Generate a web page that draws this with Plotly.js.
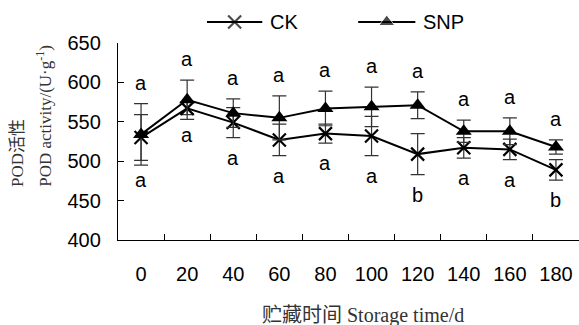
<!DOCTYPE html>
<html>
<head>
<meta charset="utf-8">
<script src="https://cdn.plot.ly/plotly-3.0.1.min.js"></script>
<style>html,body{margin:0;padding:0;background:#fff;}#chart{width:579px;height:325px;}</style>
</head>
<body>
<div id="chart"></div>
<script>
// Data
var days = ['0', '20', '40', '60', '80', '100', '120', '140', '160', '180'];
var ckValues = [530, 567, 549, 527, 535, 532, 509, 517, 515, 489];
var ckErrors = [29, 8, 19, 20, 12, 25, 26, 13, 13, 13];
var snpValues = [534, 578, 561, 555, 567, 569, 571, 538, 538, 518];
var snpErrors = [39, 25, 18, 28, 22, 25, 17, 14, 17, 9];
var ckLetters = ['a', 'a', 'a', 'a', 'a', 'a', 'b', 'a', 'a', 'b'];
var snpLetters = ['a', 'a', 'a', 'a', 'a', 'a', 'a', 'a', 'a', 'a'];
var seriesNames = ['CK', 'SNP'];

var sans = 'Liberation Sans, Arial, sans-serif';
var serif = 'Liberation Serif, Times New Roman, Noto Sans CJK SC, serif';

var errStyle = {type: 'data', visible: true, color: '#333', thickness: 1.2, width: 7};
var ckMarker = {symbol: 'x-thin', size: 13, color: '#000', line: {color: '#000', width: 2.2}};
var snpMarker = {symbol: 'triangle-up', size: 14, color: '#000'};

var traces = [
  {
    x: days, y: ckValues, name: seriesNames[0], type: 'scatter', mode: 'lines+markers',
    line: {color: '#000', width: 2}, marker: ckMarker, showlegend: false,
    error_y: Object.assign({array: ckErrors}, errStyle)
  },
  {
    x: days, y: snpValues, name: seriesNames[1], type: 'scatter', mode: 'lines+markers',
    line: {color: '#000', width: 2}, marker: snpMarker, showlegend: false,
    error_y: Object.assign({array: snpErrors}, errStyle)
  },
  // legend samples on a separate small axis in the top strip
  {
    x: [0.193, 0.253, 0.313], y: [0.5, 0.5, 0.5], xaxis: 'x2', yaxis: 'y2',
    type: 'scatter', mode: 'lines+markers', showlegend: false, hoverinfo: 'skip',
    line: {color: '#000', width: 2},
    marker: {symbol: 'x-thin', size: [0, 13, 0], color: '#000', line: {color: '#000', width: 2.2}}
  },
  {
    x: [0.521, 0.583, 0.645], y: [0.5, 0.5, 0.5], xaxis: 'x2', yaxis: 'y2',
    type: 'scatter', mode: 'lines+markers', showlegend: false, hoverinfo: 'skip',
    line: {color: '#000', width: 2},
    marker: {symbol: 'triangle-up', size: [0, 14, 0], color: '#000'}
  }
];

var annotations = [];
for (var i = 0; i < days.length; i++) {
  annotations.push({
    x: i, y: snpValues[i] + snpErrors[i], xref: 'x', yref: 'y',
    text: snpLetters[i], showarrow: false, yanchor: 'bottom', yshift: 8,
    font: {family: sans, size: 20, color: '#000'}
  });
  annotations.push({
    x: i, y: ckValues[i] - ckErrors[i], xref: 'x', yref: 'y',
    text: ckLetters[i], showarrow: false, yanchor: 'top', yshift: -7,
    font: {family: sans, size: 20, color: '#000'}
  });
}
annotations.push({
  xref: 'x2', yref: 'y2', x: 0.325, y: 0.5, xanchor: 'left', yanchor: 'middle',
  text: seriesNames[0], showarrow: false, font: {family: sans, size: 20, color: '#000'}
});
annotations.push({
  xref: 'x2', yref: 'y2', x: 0.658, y: 0.5, xanchor: 'left', yanchor: 'middle',
  text: seriesNames[1], showarrow: false, font: {family: sans, size: 20, color: '#000'}
});
annotations.push({
  xref: 'paper', yref: 'paper', x: 0.531, y: -0.32, xanchor: 'center', yanchor: 'middle',
  text: '贮藏时间 Storage time/d', showarrow: false,
  font: {family: serif, size: 20, color: '#333'}
});
annotations.push({
  xref: 'paper', yref: 'paper', x: -0.219, y: 0.217, xanchor: 'center', yanchor: 'bottom',
  textangle: -90,
  text: 'POD活性', showarrow: false,
  font: {family: serif, size: 17, color: '#333'}
});
annotations.push({
  xref: 'paper', yref: 'paper', x: -0.161, y: 0.217, xanchor: 'center', yanchor: 'bottom',
  textangle: -90,
  text: 'POD activity/(U·g<sup>-1</sup>)', showarrow: false,
  font: {family: serif, size: 17, color: '#333'}
});

var layout = {
  width: 579, height: 325,
  margin: {l: 118, r: 0, t: 5, b: 85},
  paper_bgcolor: '#fff', plot_bgcolor: '#fff',
  showlegend: false,
  xaxis: {
    type: 'category', range: [-0.5, 9.5],
    showline: true, linecolor: '#000', linewidth: 1.2,
    ticks: 'inside', ticklen: 6, tickcolor: '#000', tickwidth: 1, tickson: 'boundaries',
    showgrid: false, zeroline: false,
    tickfont: {family: sans, size: 20, color: '#000'},
    ticklabelstandoff: 16
  },
  yaxis: {
    domain: [0, 0.8383],
    range: [400, 650], dtick: 50, tick0: 400,
    showline: true, linecolor: '#000', linewidth: 1.2,
    ticks: 'inside', ticklen: 6, tickcolor: '#000', tickwidth: 1,
    showgrid: false, zeroline: false,
    tickfont: {family: sans, size: 20, color: '#000'},
    ticklabelstandoff: 12
  },
  xaxis2: {anchor: 'y2', range: [0, 1], visible: false, fixedrange: true},
  yaxis2: {anchor: 'x2', domain: [0.855, 1], range: [0, 1], visible: false, fixedrange: true},
  annotations: annotations
};

Plotly.newPlot('chart', traces, layout, {displayModeBar: false, staticPlot: true});
</script>
</body>
</html>
